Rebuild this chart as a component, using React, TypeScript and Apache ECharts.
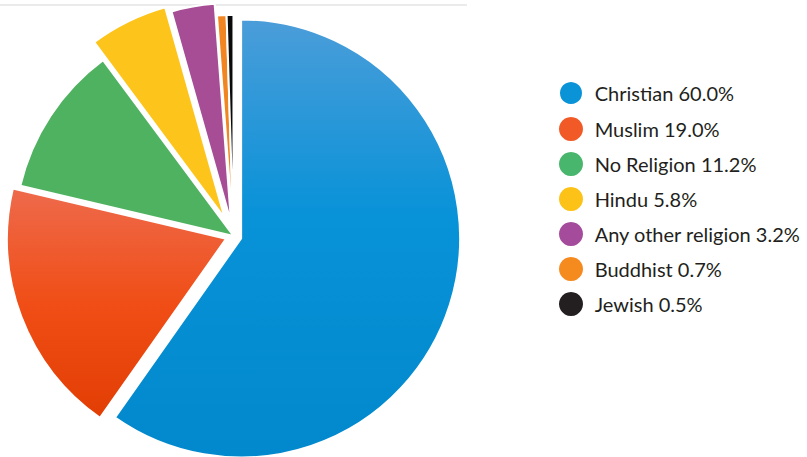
import React, { useEffect, useRef } from "react";
import * as echarts from "echarts";

const categories = [
  "Christian",
  "Muslim",
  "No Religion",
  "Hindu",
  "Any other religion",
  "Buddhist",
  "Jewish",
];
const shares = [60.0, 19.0, 11.2, 5.8, 3.2, 0.7, 0.5];

// styling only
const sliceFills: any[] = [
  {
    type: "linear", x: 0, y: 0, x2: 0, y2: 1,
    colorStops: [
      { offset: 0, color: "#4b9dd9" },
      { offset: 0.45, color: "#0892d8" },
      { offset: 1, color: "#0288cc" },
    ],
  },
  {
    type: "linear", x: 0, y: 0, x2: 0, y2: 1,
    colorStops: [
      { offset: 0, color: "#ee6a4c" },
      { offset: 0.5, color: "#f04e16" },
      { offset: 1, color: "#e23e04" },
    ],
  },
  "#4fb261",
  "#fdc51c",
  "#a64d95",
  "#f08522",
  "#0a0a0a",
];
const legendColors = [
  "#0b93d8",
  "#f15a27",
  "#48b66c",
  "#fdc217",
  "#a54b9b",
  "#f58a1f",
  "#231f20",
];
const explodeOffsets = [8, 8, 0, 20, 14, 2, 2];

export default function App() {
  const ref = useRef<HTMLDivElement>(null);
  useEffect(() => {
    if (!ref.current) return;
    const chart = echarts.init(ref.current, undefined, { renderer: "svg" });

    const series = categories.map((_, k) => ({
      type: "pie",
      center: [233.5, 236],
      radius: 219,
      startAngle: 90,
      clockwise: true,
      silent: true,
      selectedMode: "multiple",
      selectedOffset: explodeOffsets[k],
      avoidLabelOverlap: false,
      label: { show: false },
      labelLine: { show: false },
      emphasis: { disabled: true },
      select: { itemStyle: { borderColor: "#ffffff", borderWidth: 2 } },
      z: 2,
      data: categories.map((name, i) => ({
        name,
        value: shares[i],
        selected: i === k,
        itemStyle:
          i === k
            ? { color: sliceFills[i], borderColor: "#ffffff", borderWidth: 2 }
            : { color: "rgba(0,0,0,0)", borderWidth: 0 },
      })),
    }));

    chart.setOption({
      animation: false,
      backgroundColor: "#ffffff",
      graphic: [
        {
          type: "line",
          z: 0,
          shape: { x1: 0, y1: 5, x2: 467, y2: 5 },
          style: { stroke: "#ebebeb", lineWidth: 2 },
        },
      ],
      legend: {
        orient: "vertical",
        left: 553,
        top: 80,
        padding: [0, 5, 0, 5],
        itemWidth: 37.4,
        itemHeight: 24,
        itemGap: 11,
        icon: "circle",
        selectedMode: false,
        data: categories.map((name, i) => ({
          name,
          itemStyle: { color: legendColors[i] },
        })),
        formatter: (name: string) => {
          const i = categories.indexOf(name);
          return `${name} ${shares[i].toFixed(1)}%`;
        },
        textStyle: {
          fontFamily: "Lato",
          fontSize: 20,
          color: "#231f20",
        },
      },
      series,
    });
    return () => chart.dispose();
  }, []);
  return (
    <div
      ref={ref}
      style={{ position: "absolute", left: 0, top: 0, width: 807, height: 457 }}
    />
  );
}
